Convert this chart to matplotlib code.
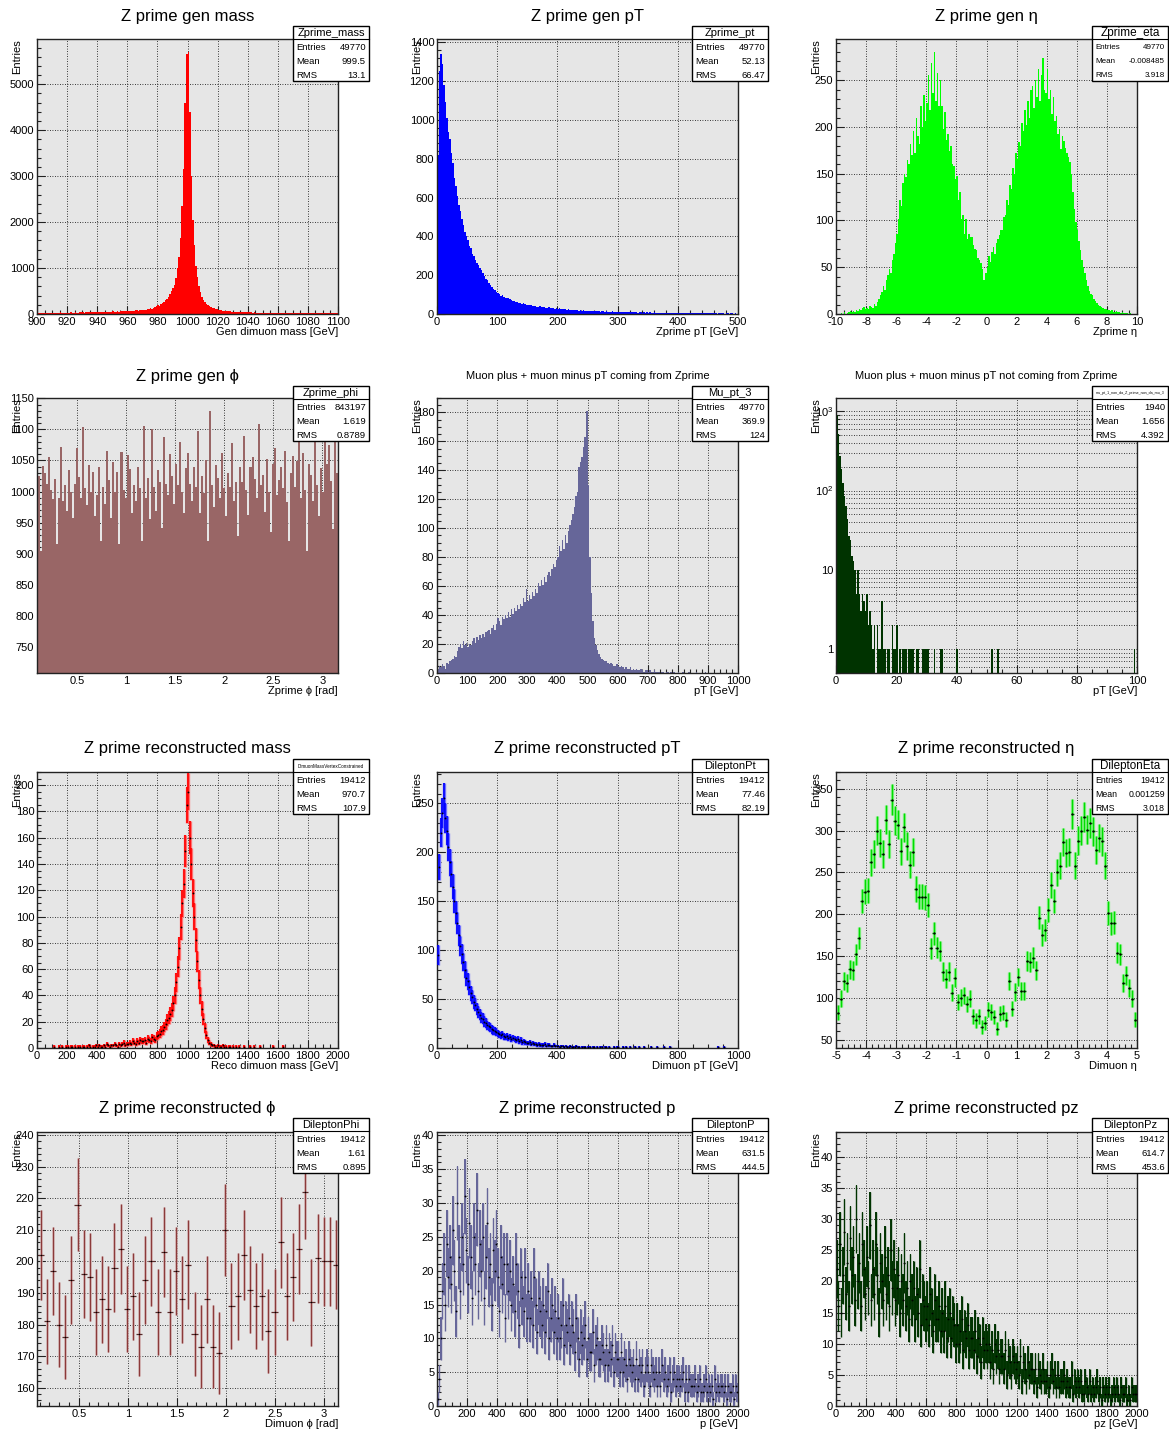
import numpy as np
import matplotlib
matplotlib.use("Agg")
import matplotlib.pyplot as plt
from matplotlib.patches import Rectangle
from matplotlib.lines import Line2D
from matplotlib.ticker import (MultipleLocator, FuncFormatter, FixedLocator,
                               FixedFormatter, LogLocator, NullFormatter)

plt.rcParams['font.family'] = ['Liberation Sans', 'DejaVu Sans']
plt.rcParams['mathtext.fontset'] = 'custom'
plt.rcParams['mathtext.rm'] = 'Liberation Sans'

# Histogram contents
# ===================================
# generated Z' mass, 1 GeV bins over 900-1100
gen_mass = [
    20, 25, 18, 22, 30, 24, 19, 27, 23, 26, 28, 21, 30, 25, 27, 33, 24, 29, 31, 26,
    30, 28, 34, 27, 32, 36, 29, 31, 38, 33, 35, 30, 37, 41, 34, 39, 36, 42, 38, 40,
    44, 39, 47, 41, 45, 50, 43, 48, 52, 46, 55, 49, 53, 58, 51, 57, 62, 55, 60, 66,
    63, 70, 67, 74, 69, 78, 82, 75, 88, 84, 80, 95, 90, 105, 100, 120, 115, 135, 150, 165,
    190, 175, 210, 240, 260, 300, 330, 380, 430, 500, 560, 640, 780, 1000, 1250, 1650, 2350, 3150, 4600, 5650,
    5700, 4400, 3000, 2050, 1500, 1050, 800, 600, 480, 380, 310, 260, 220, 200, 175, 160, 140, 130, 115, 100,
    88, 85, 78, 74, 70, 66, 63, 60, 56, 54, 52, 48, 47, 45, 42, 44, 40, 38, 41, 36,
    37, 34, 35, 32, 33, 30, 31, 29, 32, 28, 27, 30, 26, 28, 25, 27, 24, 26, 23, 25,
    22, 24, 21, 23, 20, 22, 19, 21, 20, 18, 21, 19, 17, 20, 18, 16, 19, 17, 18, 15,
    17, 16, 18, 15, 16, 14, 17, 15, 14, 16, 13, 15, 14, 16, 13, 14, 12, 15, 13, 14,
]

# generated Z' pT, 2.5 GeV bins over 0-500
gen_pt = [
    820, 1250, 1340, 1290, 1180, 1090, 1010, 940, 900, 830,
    780, 700, 660, 610, 560, 530, 490, 460, 420, 400,
    380, 350, 340, 310, 300, 280, 265, 250, 235, 225,
    210, 195, 180, 175, 160, 150, 140, 130, 125, 115,
    110, 105, 95, 100, 90, 85, 80, 82, 75, 70,
    68, 65, 60, 63, 58, 55, 52, 56, 50, 48,
    46, 44, 47, 42, 40, 43, 38, 36, 39, 35,
    34, 36, 32, 31, 34, 30, 29, 32, 28, 30,
    27, 29, 26, 25, 27, 24, 23, 25, 22, 21,
    23, 20, 19, 21, 18, 20, 17, 19, 16, 18,
    16, 15, 17, 14, 15, 13, 16, 14, 12, 13,
    14, 12, 13, 11, 12, 10, 13, 11, 10, 12,
    10, 11, 9, 10, 8, 10, 9, 11, 8, 9,
    9, 8, 10, 7, 9, 8, 7, 9, 6, 8,
    7, 8, 6, 7, 8, 6, 7, 5, 7, 6,
    6, 7, 5, 6, 5, 7, 6, 5, 6, 4,
    5, 6, 4, 5, 6, 4, 5, 4, 5, 3,
    4, 5, 3, 4, 5, 4, 3, 4, 3, 4,
    3, 4, 3, 5, 3, 4, 2, 3, 4, 3,
    3, 2, 4, 3, 2, 3, 3, 2, 3, 2,
]

# generated Z' eta, 0.1 bins over -10..10
gen_eta = [
    0, 0, 0, 1, 0, 2, 0, 1, 2, 3,
    2, 3, 2, 4, 3, 5, 4, 6, 8, 5,
    6, 5, 9, 8, 6, 11, 9, 13, 16, 20,
    24, 30, 26, 36, 42, 48, 44, 58, 64, 76,
    86, 102, 122, 115, 140, 150, 146, 165, 160, 182,
    170, 196, 172, 210, 190, 182, 222, 200, 234, 206,
    226, 256, 218, 268, 236, 280, 228, 258, 222, 250,
    222, 198, 216, 186, 192, 174, 180, 160, 158, 144,
    148, 122, 130, 102, 106, 86, 102, 80, 86, 82,
    82, 74, 70, 68, 60, 58, 54, 48, 36, 44,
    50, 62, 56, 66, 72, 64, 76, 80, 84, 90,
    90, 104, 106, 122, 116, 138, 134, 156, 150, 172,
    166, 184, 180, 204, 196, 218, 202, 228, 210, 240,
    244, 220, 250, 232, 262, 228, 256, 274, 240, 236,
    262, 230, 240, 214, 232, 206, 212, 192, 198, 176,
    190, 185, 178, 172, 168, 162, 150, 130, 112, 98,
    90, 78, 68, 58, 50, 44, 36, 30, 25, 21,
    20, 16, 14, 12, 10, 9, 7, 6, 5, 5,
    4, 4, 3, 4, 2, 2, 3, 2, 2, 1,
    2, 1, 1, 1, 0, 1, 0, 0, 0, 0,
]

# generated Z' phi
gen_phi = [
    1008, 1025, 905, 1041, 1030, 1012, 1055, 1002, 988, 1020,
    915, 990, 1072, 985, 1010, 968, 1035, 1000, 958, 1012,
    1070, 1024, 990, 1104, 1005, 978, 1043, 1000, 1032, 960,
    995, 1040, 921, 1008, 980, 1066, 1018, 958, 1047, 1000,
    1032, 915, 1064, 1003, 990, 1058, 1036, 965, 1010, 984,
    1040, 1005, 920, 1105, 990, 1021, 955, 1100, 1007, 968,
    1035, 1016, 942, 1087, 1012, 995, 1060, 1025, 980, 1045,
    1010, 1080, 999, 965, 1038, 1062, 1012, 985, 1040, 1007,
    1098, 966, 1025, 998, 1050, 920, 1130, 1010, 975, 1043,
    1022, 990, 1062, 1005, 961, 1030, 1008, 1078, 985, 1016,
    928, 1040, 1015, 1089, 1003, 962, 1040, 1055, 1020, 990,
    1108, 1010, 1026, 967, 1052, 1000, 935, 1045, 1070, 995,
    1018, 1040, 1005, 1065, 983, 920, 1030, 1057, 1008, 1049,
    1100, 990, 1062, 1003, 905, 1045, 1027, 985, 1080, 1010,
    960, 1038, 1000, 1092, 1045, 1075, 1017, 940, 1105, 1030,
]

# mu+ plus mu- pT from the Z', 5 GeV bins over 0-1000
mu_pt_from_z = [
    3, 5, 4, 6, 5, 3, 7, 6, 8, 9,
    10, 12, 11, 15, 18, 20, 17, 22, 19, 21,
    18, 20, 19, 22, 24, 21, 25, 23, 26, 24,
    27, 25, 28, 29, 30, 27, 31, 33, 30, 34,
    38, 36, 33, 39, 37, 40, 38, 42, 39, 44,
    41, 45, 43, 47, 44, 48, 46, 52, 49, 58,
    50, 54, 51, 56, 53, 58, 55, 62, 60, 64,
    61, 66, 63, 68, 70, 67, 72, 75, 73, 78,
    80, 88, 84, 92, 86, 95, 90, 98, 102, 106,
    110, 115, 122, 125, 142, 146, 149, 156, 163, 181,
    130, 80, 55, 36, 24, 19, 16, 13, 11, 10,
    9, 8, 8, 7, 6, 7, 6, 5, 5, 6,
    5, 4, 5, 4, 3, 4, 3, 3, 4, 2,
    3, 2, 3, 2, 2, 3, 2, 1, 2, 2,
    1, 2, 1, 1, 2, 1, 1, 1, 0, 1,
    1, 0, 1, 1, 0, 1, 0, 1, 0, 0,
    1, 0, 0, 1, 0, 0, 0, 1, 0, 0,
    0, 0, 1, 0, 0, 0, 0, 0, 1, 0,
    0, 0, 0, 0, 0, 0, 0, 0, 0, 0,
    0, 0, 0, 0, 0, 0, 0, 0, 0, 0,
]

# mu+ plus mu- pT not from the Z', 0.5 GeV bins over 0-100
mu_pt_not_z = (
    [900, 510, 275, 185, 125, 86, 63, 44, 27, 24]
    + [15, 13, 10, 5, 10, 5, 3, 5, 4, 3]
    + [5, 2, 3, 2, 1, 2, 0, 2, 1, 1]
    + [4, 1, 1, 0, 1, 1, 0, 2, 1, 1]
    + [2, 0, 1, 0, 1, 1, 1, 0, 1, 1]
    + [1, 1, 0, 1, 1, 0, 0, 1, 1, 1]
    + [1, 1, 0, 0, 0, 1, 0, 0, 0, 1]
    + [1, 0, 0, 0, 0, 0, 0, 0, 0, 0]
    + [1, 0, 0, 0, 0, 0, 0, 0, 0, 0]
    + [0] * 10
    + [0, 0, 0, 1, 0, 0, 0, 1, 0, 0]
    + [0] * 80
    + [0, 0, 0, 0, 0, 0, 0, 0, 1, 0]
)

# reconstructed dimuon mass, 10 GeV bins over 0-2000
reco_mass = (
    [0] * 10
    + [0, 1, 0, 0, 1, 0, 1, 0, 0, 1]
    + [1, 0, 1, 1, 0, 1, 0, 1, 1, 0]
    + [1, 1, 0, 1, 2, 1, 0, 1, 1, 2]
    + [1, 2, 1, 1, 2, 1, 3, 2, 1, 2]
    + [2, 3, 2, 1, 3, 2, 3, 4, 2, 3]
    + [3, 4, 3, 5, 4, 3, 5, 4, 6, 5]
    + [5, 6, 4, 7, 6, 5, 8, 7, 6, 9]
    + [10, 11, 13, 14, 16, 18, 21, 23, 26, 29]
    + [34, 40, 50, 62, 76, 92, 110, 125, 150, 185]
    + [195, 160, 140, 118, 100, 82, 66, 52, 40, 30]
    + [22, 15, 10, 6, 4, 3, 2, 2, 1, 1]
    + [2, 1, 1, 2, 1, 1, 0, 1, 1, 0]
    + [1, 0, 1, 0, 1, 0, 0, 1, 0, 0]
    + [0, 1, 0, 0, 1, 0, 0, 0, 1, 0]
    + [0, 0, 0, 0, 0, 0, 1, 0, 0, 0]
    + [0, 0, 0, 1, 0, 0, 0, 0, 0, 0]
    + [0] * 30
)

# reconstructed dimuon pT, 5 GeV bins over 0-1000
reco_pt = (
    [95, 185, 220, 240, 255, 235, 222, 205, 190, 178]
    + [165, 150, 138, 128, 115, 104, 96, 88, 80, 72]
    + [68, 62, 56, 52, 47, 44, 40, 37, 34, 31]
    + [30, 27, 26, 23, 22, 21, 19, 18, 17, 16]
    + [15, 14, 13, 14, 12, 11, 12, 10, 11, 9]
    + [10, 9, 8, 9, 7, 8, 6, 7, 6, 5]
    + [5, 6, 4, 5, 4, 4, 3, 4, 3, 3]
    + [3, 4, 2, 3, 3, 2, 2, 3, 2, 2]
    + [2, 1, 2, 2, 1, 2, 1, 1, 2, 1]
    + [1, 1, 2, 1, 1, 0, 1, 1, 1, 0]
    + [1, 1, 0, 1, 1, 0, 1, 0, 1, 1]
    + [0, 1, 1, 0, 1, 0, 0, 1, 0, 1]
    + [1, 0, 0, 1, 0, 1, 0, 0, 1, 0]
    + [0, 1, 0, 0, 1, 0, 0, 1, 0, 0]
    + [0, 0, 1, 0, 0, 0, 1, 0, 0, 0]
    + [1, 0, 0, 0, 1, 0, 0, 0, 0, 0]
    + [0] * 20
    + [0, 0, 0, 0, 0, 0, 1, 0, 0, 0]
    + [1, 0, 0, 0, 0, 0, 0, 0, 0, 0]
)

# reconstructed dimuon eta, 0.1 bins over -5..5
reco_eta = [
    82, 99, 120, 118, 134, 133, 152, 172, 216, 227,
    228, 262, 272, 300, 285, 272, 313, 284, 337, 312,
    307, 275, 304, 281, 259, 274, 230, 221, 221, 220,
    211, 159, 177, 160, 156, 131, 123, 131, 106, 124,
    95, 100, 103, 93, 99, 78, 73, 78, 65, 70,
    86, 83, 77, 63, 81, 82, 74, 120, 87, 107,
    125, 108, 108, 144, 143, 148, 133, 196, 175, 181,
    205, 235, 216, 250, 258, 286, 273, 274, 320, 258,
    288, 300, 316, 301, 309, 299, 277, 291, 287, 258,
    201, 189, 190, 154, 152, 118, 127, 112, 99, 74,
]

# reconstructed dimuon phi, pi/50 bins
reco_phi = [
    202, 181, 197, 180, 176, 194, 218, 196, 195, 184,
    188, 185, 198, 204, 185, 189, 177, 194, 200, 184,
    203, 184, 197, 188, 199, 177, 173, 188, 173, 171,
    210, 186, 189, 202, 191, 186, 189, 178, 184, 206,
    189, 195, 204, 222, 187, 201, 200, 200, 199,
]

# reconstructed dimuon momentum, 10 GeV bins over 0-2000
reco_p = [
    1, 4, 10, 17, 21, 15, 24, 19, 22, 18,
    26, 20, 14, 30, 22, 17, 25, 21, 31, 23,
    18, 27, 22, 16, 25, 21, 29, 17, 24, 20,
    25, 16, 22, 27, 19, 21, 15, 23, 20, 24,
    19, 14, 22, 18, 21, 13, 21, 17, 20, 15,
    18, 14, 21, 17, 12, 19, 16, 14, 19, 13,
    17, 13, 16, 12, 19, 15, 11, 16, 14, 12,
    15, 11, 14, 17, 10, 13, 15, 11, 14, 10,
    13, 10, 12, 15, 9, 12, 11, 13, 9, 12,
    11, 8, 13, 10, 7, 11, 9, 10, 12, 7,
    10, 8, 8, 11, 6, 9, 10, 7, 7, 9,
    8, 6, 9, 6, 8, 7, 9, 5, 8, 7,
    7, 5, 8, 5, 7, 6, 4, 7, 6, 5,
    6, 4, 7, 4, 6, 5, 6, 3, 5, 6,
    5, 3, 6, 5, 4, 5, 3, 5, 3, 6,
    4, 5, 3, 4, 5, 2, 4, 5, 3, 4,
    4, 3, 4, 5, 2, 4, 2, 4, 3, 3,
    3, 4, 2, 3, 4, 2, 2, 3, 4, 2,
    3, 2, 3, 1, 4, 2, 3, 2, 3, 3,
    2, 3, 1, 3, 2, 2, 3, 1, 3, 2,
]

# reconstructed dimuon pz, 10 GeV bins over 0-2000
reco_pz = [
    22, 16, 26, 15, 21, 28, 18, 23, 16, 27,
    21, 24, 17, 30, 20, 23, 16, 26, 22, 18,
    24, 19, 29, 17, 22, 18, 26, 21, 15, 23,
    20, 17, 24, 18, 21, 16, 25, 19, 22, 17,
    19, 21, 15, 20, 17, 23, 16, 19, 14, 20,
    17, 19, 14, 18, 15, 22, 13, 17, 16, 14,
    16, 13, 18, 15, 12, 17, 14, 14, 16, 12,
    15, 12, 16, 11, 14, 15, 11, 14, 13, 10,
    13, 10, 12, 14, 9, 12, 11, 13, 9, 11,
    11, 9, 12, 8, 11, 10, 7, 11, 9, 10,
    9, 10, 7, 9, 6, 10, 8, 9, 6, 8,
    8, 6, 9, 5, 8, 7, 5, 8, 7, 6,
    7, 5, 8, 4, 7, 6, 4, 7, 5, 6,
    6, 4, 6, 3, 6, 5, 4, 6, 4, 4,
    5, 3, 5, 6, 4, 5, 3, 5, 3, 4,
    4, 5, 3, 4, 3, 3, 5, 2, 4, 3,
    4, 3, 4, 2, 2, 4, 3, 2, 4, 2,
    3, 2, 3, 4, 2, 3, 1, 3, 2, 3,
    2, 3, 1, 2, 3, 2, 3, 2, 1, 3,
    2, 2, 3, 1, 2, 1, 3, 2, 2, 2,
]

# stat box entries: name, entries, mean, rms
stats = {
    "mass": ("Zprime_mass", "49770", "999.5", "13.1"),
    "pt": ("Zprime_pt", "49770", "52.13", "66.47"),
    "eta": ("Zprime_eta", "49770", "-0.008485", "3.918"),
    "phi": ("Zprime_phi", "843197", "1.619", "0.8789"),
    "mu3": ("Mu_pt_3", "49770", "369.9", "124"),
    "munz": ("mu_pt_1_non_da_Z_prime_non_da_mu_3", "1940", "1.656", "4.392"),
    "rmass": ("DimuonMassVertexConstrained", "19412", "970.7", "107.9"),
    "rpt": ("DileptonPt", "19412", "77.46", "82.19"),
    "reta": ("DileptonEta", "19412", "0.001259", "3.018"),
    "rphi": ("DileptonPhi", "19412", "1.61", "0.895"),
    "rp": ("DileptonP", "19412", "631.5", "444.5"),
    "rpz": ("DileptonPz", "19412", "614.7", "453.6"),
}

# Canvas layout (pixels)
# ===================================
W, H = 1169, 1432
fig = plt.figure(figsize=(W / 100, H / 100), dpi=100)

COLS = [(37, 338), (437, 738), (836, 1137)]
ROWS = [(39, 314), (398, 673), (772, 1048), (1132, 1406)]
TITLE_Y = [16, 376, 748, 1108]
BOX_X = [293, 692, 1092]
BOX_Y = [26, 386, 759, 1118]
FRAME_BG = "#e6e6e6"
PHI = "\u03d5"
ETA = "\u03b7"


def fx(x):
    return x / W


def fy(y):
    return 1 - y / H


def num_fmt(v, pos):
    return f"{round(v, 6):g}"


def make_pad(row, col, title, xlabel, xlim, ylim, xt, yt, title_size=12):
    l, r = COLS[col]
    t, b = ROWS[row]
    ax = fig.add_axes([fx(l), fy(b), (r - l) / W, (b - t) / H])
    ax.set_facecolor(FRAME_BG)
    for s in ax.spines.values():
        s.set_color("#222222")
        s.set_linewidth(1.0)
    ax.set_xlim(*xlim)
    ax.set_ylim(*ylim)
    ax.xaxis.set_major_locator(MultipleLocator(xt[0]))
    ax.xaxis.set_minor_locator(MultipleLocator(xt[1]))
    ax.xaxis.set_major_formatter(FuncFormatter(num_fmt))
    if yt is not None:
        ax.yaxis.set_major_locator(MultipleLocator(yt[0]))
        ax.yaxis.set_minor_locator(MultipleLocator(yt[1]))
        ax.yaxis.set_major_formatter(FuncFormatter(num_fmt))
    ax.tick_params(which="both", direction="in", top=False, right=False,
                   labelsize=8, pad=2, color="#222222")
    ax.tick_params(which="major", length=6, width=0.8)
    ax.tick_params(which="minor", length=3, width=0.8)
    ax.grid(True, which="major", color="black", linestyle=(0, (1, 2)), linewidth=0.6)
    ax.set_axisbelow(True)
    fig.text(fx((l + r) / 2), fy(TITLE_Y[row]), title, ha="center", va="center",
             fontsize=title_size)
    fig.text(fx(l - 20), fy(t), "Entries", rotation=90, ha="center", va="top", fontsize=8)
    fig.text(fx(r), fy(b + 18), xlabel, ha="right", va="center", fontsize=8)
    return ax


def stats_box(row, col, key, name_size=8, text_size=6.8):
    name, entries, mean, rms = stats[key]
    x0, y0 = BOX_X[col], BOX_Y[row]
    w, h = 76, 55
    fig.add_artist(Rectangle((fx(x0), fy(y0 + h)), w / W, h / H, transform=fig.transFigure,
                             facecolor="white", edgecolor="black", linewidth=1.0, zorder=5))
    fig.add_artist(Line2D([fx(x0), fx(x0 + w)], [fy(y0 + 13)] * 2, transform=fig.transFigure,
                          color="black", linewidth=0.8, zorder=6))
    fig.text(fx(x0 + w / 2), fy(y0 + 7), name, ha="center", va="center",
             fontsize=name_size, zorder=7)
    for i, (lab, val) in enumerate([("Entries", entries), ("Mean", mean), ("RMS", rms)]):
        yy = y0 + 21.5 + 14 * i
        fig.text(fx(x0 + 3), fy(yy), lab, ha="left", va="center", fontsize=text_size, zorder=7)
        fig.text(fx(x0 + w - 3), fy(yy), val, ha="right", va="center", fontsize=text_size, zorder=7)


def fill_hist(ax, lo, hi, values, color, baseline=0):
    values = np.asarray(values, float)
    edges = np.linspace(lo, hi, len(values) + 1)
    ax.stairs(np.maximum(values, baseline), edges, baseline=baseline, fill=True,
              color=color, linewidth=0)


def error_hist(ax, edges, values, color, lw=1.0, halo=None, halo_lw=2.6, cap=None,
               dot=1.3, band=None):
    values = np.asarray(values, float)
    centres = 0.5 * (edges[1:] + edges[:-1])
    half = 0.5 * np.diff(edges)
    if band:
        # error band drawn bin by bin so dense histograms read as a solid strip
        all_err = np.sqrt(values)
        ax.stairs(values + all_err, edges, baseline=values - all_err, fill=True,
                  color=band, linewidth=0, zorder=2)
    keep = values > 0
    c, v, hw = centres[keep], values[keep], half[keep]
    err = np.sqrt(v)
    if halo:
        ax.vlines(c, v - err, v + err, color=halo, linewidth=halo_lw, zorder=2)
    ax.vlines(c, v - err, v + err, color=color, linewidth=lw, zorder=3)
    ax.hlines(v, c - hw, c + hw, color=cap or color, linewidth=lw, zorder=3)
    ax.plot(c, v, "o", color="black", markersize=dot, markeredgewidth=0, zorder=4)


# Row 1: generator level Z'
# ===================================
ax = make_pad(0, 0, "Z prime gen mass", "Gen dimuon mass [GeV]",
              (900, 1100), (0, 5985), (20, 5), (1000, 200))
fill_hist(ax, 900, 1100, gen_mass, "#ff0000")
stats_box(0, 0, "mass")

ax = make_pad(0, 1, "Z prime gen pT", "Zprime pT [GeV]",
              (0, 500), (0, 1417), (100, 20), (200, 40))
fill_hist(ax, 0, 500, gen_pt, "#0000ff")
stats_box(0, 1, "pt")

ax = make_pad(0, 2, f"Z prime gen {ETA}", f"Zprime {ETA}",
              (-10, 10), (0, 294), (2, 0.5), (50, 10))
fill_hist(ax, -10, 10, gen_eta, "#00ff00")
stats_box(0, 2, "eta", name_size=8.5, text_size=5.8)

# Row 2: gen phi and muon pT sums
# ===================================
ax = make_pad(1, 0, f"Z prime gen {PHI}", f"Zprime {PHI} [rad]",
              (0.092, 3.158), (708, 1150.5), (0.5, 0.1), (50, 10))
fill_hist(ax, 0.08, 3.16, gen_phi, "#996666")
stats_box(1, 0, "phi")

ax = make_pad(1, 1, "Muon plus + muon minus pT coming from Zprime", "pT [GeV]",
              (0, 1000), (0, 190), (100, 20), (20, 5), title_size=8)
fill_hist(ax, 0, 1000, mu_pt_from_z, "#666699")
stats_box(1, 1, "mu3")

ax = make_pad(1, 2, "Muon plus + muon minus pT not coming from Zprime", "pT [GeV]",
              (0, 100), (0.5, 1470), (20, 5), None, title_size=8)
ax.set_yscale("log")
ax.set_ylim(0.5, 1470)
ax.yaxis.set_major_locator(FixedLocator([1, 10, 100, 1000]))
ax.yaxis.set_major_formatter(FixedFormatter(["1", "10", "$10^{2}$", "$10^{3}$"]))
ax.yaxis.set_minor_locator(LogLocator(base=10, subs=np.arange(2, 10)))
ax.yaxis.set_minor_formatter(NullFormatter())
ax.tick_params(which="both", direction="in", labelsize=8, pad=2)
ax.yaxis.grid(True, which="minor", color="black", linestyle=(0, (1, 2)), linewidth=0.6)
fill_hist(ax, 0, 100, mu_pt_not_z, "#003300", baseline=1e-3)
stats_box(1, 2, "munz", name_size=2.6)

# Row 3: reconstructed mass, pT, eta
# ===================================
ax = make_pad(2, 0, "Z prime reconstructed mass", "Reco dimuon mass [GeV]",
              (0, 2000), (0, 210), (200, 50), (20, 5))
error_hist(ax, np.linspace(0, 2000, len(reco_mass) + 1), reco_mass, "#ff0000",
           lw=1.2, halo="#ff7070", halo_lw=2.4, band="#ff2020")
stats_box(2, 0, "rmass", name_size=3.3)

ax = make_pad(2, 1, "Z prime reconstructed pT", "Dimuon pT [GeV]",
              (0, 1000), (0, 282), (200, 50), (50, 10))
error_hist(ax, np.linspace(0, 1000, len(reco_pt) + 1), reco_pt, "#0000ff",
           lw=1.2, halo="#7070ff", halo_lw=2.4, band="#2020ff")
stats_box(2, 1, "rpt")

ax = make_pad(2, 2, f"Z prime reconstructed {ETA}", f"Dimuon {ETA}",
              (-5, 5), (40, 370), (1, 0.2), (50, 10))
error_hist(ax, np.linspace(-5, 5, len(reco_eta) + 1), reco_eta, "#00dd00",
           lw=1.0, halo="#90f090", halo_lw=2.4, cap="#008800", dot=1.6)
stats_box(2, 2, "reta", name_size=8.4, text_size=6.3)

# Row 4: reconstructed phi, p, pz
# ===================================
ax = make_pad(3, 0, f"Z prime reconstructed {PHI}", f"Dimuon {PHI} [rad]",
              (0.073, 3.145), (154.2, 241), (0.5, 0.1), (10, 2))
phi_edges = 0.0785 + np.arange(len(reco_phi) + 1) * np.pi / 50
error_hist(ax, phi_edges, reco_phi, "#8b3a3a", lw=0.9, halo="#d8b8b8", halo_lw=1.8,
           cap="#5a2a2a", dot=1.0)
stats_box(3, 0, "rphi")

ax = make_pad(3, 1, "Z prime reconstructed p", "p [GeV]",
              (0, 2000), (0, 40.5), (200, 50), (5, 1))
error_hist(ax, np.linspace(0, 2000, len(reco_p) + 1), reco_p, "#666699", lw=1.0,
           band="#666699")
stats_box(3, 1, "rp")

ax = make_pad(3, 2, "Z prime reconstructed pz", "pz [GeV]",
              (0, 2000), (0, 44), (200, 50), (5, 1))
error_hist(ax, np.linspace(0, 2000, len(reco_pz) + 1), reco_pz, "#003300", lw=1.0,
           band="#0a3a0a")
stats_box(3, 2, "rpz")

fig.savefig("out.png", dpi=100, facecolor="white")
